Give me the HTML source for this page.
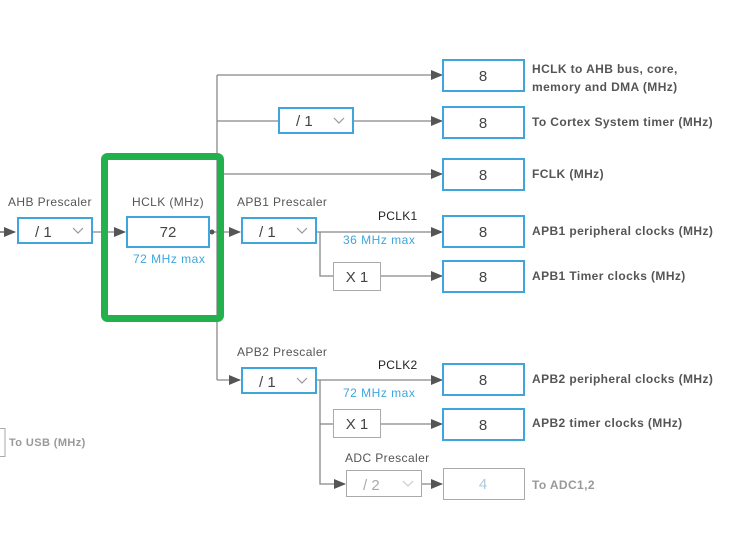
<!DOCTYPE html>
<html><head><style>body{margin:0;background:#fff}svg{display:block}</style></head><body>
<svg width="740" height="546" viewBox="0 0 740 546" xmlns="http://www.w3.org/2000/svg" font-family="Liberation Sans, sans-serif">
<defs><marker id="a" markerWidth="12" markerHeight="10" refX="11" refY="5" orient="auto" markerUnits="userSpaceOnUse"><path d="M0,0L12,5L0,10z" fill="#555"/></marker></defs>
<g stroke="#888" stroke-width="1.3" fill="none">
<line x1="0" y1="232" x2="15" y2="232" marker-end="url(#a)" stroke="#555"/>
<line x1="93" y1="232" x2="125" y2="232" marker-end="url(#a)"/>
<line x1="209" y1="232" x2="240" y2="232" marker-end="url(#a)"/>
<line x1="217" y1="75" x2="217" y2="380"/>
<line x1="217" y1="75" x2="442" y2="75" marker-end="url(#a)"/>
<line x1="217" y1="121" x2="278" y2="121"/>
<line x1="353" y1="121" x2="442" y2="121" marker-end="url(#a)"/>
<line x1="217" y1="174" x2="442" y2="174" marker-end="url(#a)"/>
<line x1="217" y1="380" x2="240" y2="380" marker-end="url(#a)"/>
<line x1="317" y1="232" x2="442" y2="232" marker-end="url(#a)"/>
<polyline points="320,232 320,276 333,276"/>
<line x1="381" y1="276" x2="442" y2="276" marker-end="url(#a)"/>
<line x1="317" y1="380" x2="442" y2="380" marker-end="url(#a)"/>
<polyline points="320,380 320,484 345,484" marker-end="url(#a)"/>
<line x1="320" y1="424" x2="333" y2="424"/>
<line x1="381" y1="424" x2="442" y2="424" marker-end="url(#a)"/>
<line x1="422" y1="484" x2="442" y2="484" marker-end="url(#a)"/>
</g>
<circle cx="212" cy="232" r="2.5" fill="#555"/>
<rect x="104.5" y="156.5" width="116" height="162" rx="3" fill="none" stroke="#22b14c" stroke-width="7"/>
<g fill="#fff" stroke="#3ea6dc" stroke-width="2">
<rect x="18" y="218" width="74" height="25"/>
<rect x="127" y="217" width="82" height="30"/>
<rect x="242" y="218" width="74" height="25"/>
<rect x="242" y="368" width="74" height="25"/>
<rect x="279" y="108" width="74" height="25"/>
<rect x="443" y="60" width="81" height="31"/>
<rect x="443" y="107" width="81" height="31"/>
<rect x="443" y="159" width="81" height="31"/>
<rect x="443" y="216" width="81" height="31"/>
<rect x="443" y="261" width="81" height="31"/>
<rect x="443" y="364" width="81" height="31"/>
<rect x="443" y="409" width="81" height="31"/>
</g>
<g fill="#fff" stroke="#aaa" stroke-width="1">
<rect x="333.5" y="262.5" width="47" height="28"/>
<rect x="333.5" y="409.5" width="47" height="28"/>
<rect x="346.5" y="470.5" width="75" height="26"/>
<rect x="443.5" y="468.5" width="81" height="31"/>
<rect x="-5" y="428.5" width="10" height="28"/>
</g>
<g fill="none" stroke="#999" stroke-width="1.2">
<polyline points="73,228 78,233 83,228"/><polyline points="297,228 302,233 307,228"/>
<polyline points="297,378 302,383 307,378"/><polyline points="334,118 339,123 344,118"/>
<polyline points="403,481 408,486 413,481" stroke="#ccc"/>
</g>
<g font-size="15" fill="#444">
<text x="35" y="237">/ 1</text><text x="259" y="237">/ 1</text><text x="259" y="387">/ 1</text><text x="296" y="126">/ 1</text>
<text x="168" y="237" text-anchor="middle">72</text>
<text x="357" y="282" text-anchor="middle">X 1</text><text x="357" y="429" text-anchor="middle">X 1</text>
<text x="363" y="490" fill="#aaa">/ 2</text>
<g text-anchor="middle"><text x="483" y="81">8</text><text x="483" y="128">8</text><text x="483" y="180">8</text><text x="483" y="237">8</text><text x="483" y="282">8</text><text x="483" y="385">8</text><text x="483" y="430">8</text><text x="483" y="489" fill="#b0c8d8">4</text></g>
</g>
<g font-size="12" letter-spacing="0.4" fill="#555">
<text x="8" y="206">AHB Prescaler</text><text x="132" y="206">HCLK (MHz)</text>
<text x="237" y="206">APB1 Prescaler</text><text x="237" y="356">APB2 Prescaler</text>
<text x="345" y="462">ADC Prescaler</text>
</g>
<g font-size="12" letter-spacing="0.3" fill="#222"><text x="378" y="220">PCLK1</text><text x="378" y="369">PCLK2</text></g>
<g font-size="12" letter-spacing="0.5" fill="#3ea6dc"><text x="133" y="263">72 MHz max</text><text x="343" y="244">36 MHz max</text><text x="343" y="397">72 MHz max</text></g>
<g font-size="12" letter-spacing="0.4" font-weight="bold" fill="#555">
<text x="532" y="73">HCLK to AHB bus, core,</text><text x="532" y="91">memory and DMA (MHz)</text>
<text x="532" y="126">To Cortex System timer (MHz)</text>
<text x="532" y="178">FCLK (MHz)</text>
<text x="532" y="235">APB1 peripheral clocks (MHz)</text>
<text x="532" y="280">APB1 Timer clocks (MHz)</text>
<text x="532" y="383">APB2 peripheral clocks (MHz)</text>
<text x="532" y="427">APB2 timer clocks (MHz)</text>
<text x="532" y="489" fill="#999">To ADC1,2</text>
<text x="9" y="446" font-size="11" fill="#999">To USB (MHz)</text>
</g>
</svg>
</body></html>
